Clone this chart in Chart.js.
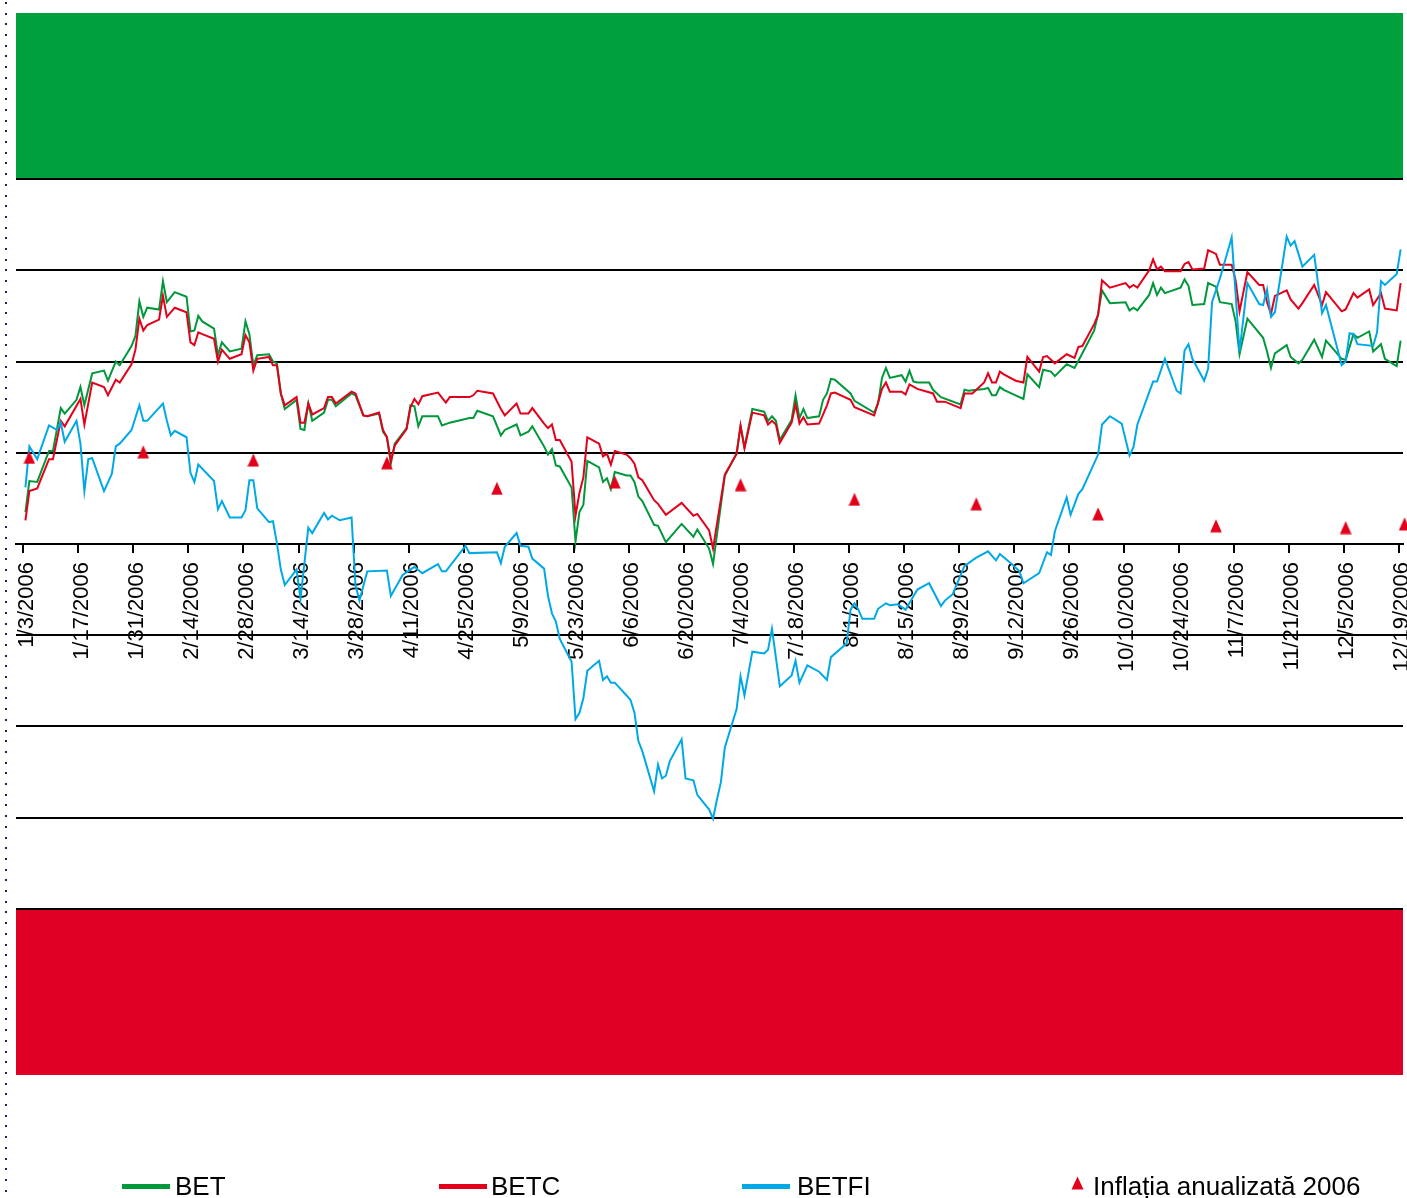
<!DOCTYPE html>
<html>
<head>
<meta charset="utf-8">
<script src="https://cdn.jsdelivr.net/npm/chart.js@4.4.1/dist/chart.umd.min.js"></script>
<style>
html,body{margin:0;padding:0;background:#fff;overflow:hidden;}
#wrap{position:relative;width:1407px;height:1198px;overflow:hidden;background:#fff;}
#c{position:absolute;left:0;top:0;}
#dots{position:absolute;left:5px;top:2px;width:2px;height:1196px;
  background:repeating-linear-gradient(to bottom,#1b2260 0px,#1b2260 2px,transparent 2px,transparent 10.7px);}
.lg{position:absolute;top:1173px;font-family:"Liberation Sans",Arial,sans-serif;font-size:26px;line-height:26px;color:#000;white-space:nowrap;}
.sw{position:absolute;top:1184px;width:48px;height:5px;}
</style>
</head>
<body>
<div id="wrap">
  <canvas id="c" width="1411" height="1198"></canvas>
  <div id="dots"></div>
  <div class="sw" style="left:122px;background:#00983a"></div>
  <div class="lg" style="left:175px">BET</div>
  <div class="sw" style="left:439px;background:#e2001a"></div>
  <div class="lg" style="left:491px">BETC</div>
  <div class="sw" style="left:742px;background:#00a9e6"></div>
  <div class="lg" style="left:797px">BETFI</div>
  <svg style="position:absolute;left:1071px;top:1176px" width="13" height="14"><polygon points="6.5,0.5 12.5,13.5 0.5,13.5" fill="#e2001a"/></svg>
  <div class="lg" style="left:1093px">Inflația anualizată 2006</div>
</div>
<script>
// x = day of year 2006 (1 = Jan 1), y = % change
const tickDates = ['1/3/2006','1/17/2006','1/31/2006','2/14/2006','2/28/2006','3/14/2006','3/28/2006','4/11/2006','4/25/2006','5/9/2006','5/23/2006','6/6/2006','6/20/2006','7/4/2006','7/18/2006','8/1/2006','8/15/2006','8/29/2006','9/12/2006','9/26/2006','10/10/2006','10/24/2006','11/7/2006','11/21/2006','12/5/2006','12/19/2006'];
const tickDays = [3,17,31,45,59,73,87,101,115,129,143,157,171,185,199,213,227,241,255,269,283,297,311,325,339,353];
const gridValues = [-40,-30,-20,-10,0,10,20,30,40];

const betPoints = [[3,3.5],[4,6.9],[6,6.8],[9,10.2],[10,10.2],[12,14.9],[13,14.3],[16,15.8],[17,17.2],[18,15.2],[20,18.7],[23,19.0],[24,17.9],[26,20.0],[27,19.6],[30,21.7],[31,22.8],[32,26.6],[33,24.9],[34,25.9],[37,25.7],[38,28.8],[39,26.5],[41,27.6],[44,27.1],[45,23.3],[46,23.4],[47,25.0],[48,24.4],[51,23.6],[52,20.7],[53,22.1],[55,21.1],[58,21.4],[59,24.4],[60,23.0],[61,19.6],[62,20.7],[65,20.8],[66,20.0],[67,19.8],[68,16.5],[69,14.8],[72,15.8],[73,12.6],[74,12.5],[75,15.4],[76,13.5],[79,14.4],[80,15.8],[81,15.8],[82,15.1],[86,16.5],[87,16.3],[89,14.1],[90,14.0],[93,14.3],[94,12.3],[95,11.7],[96,8.8],[97,11.0],[100,12.7],[101,15.2],[102,15.1],[103,12.9],[104,14.0],[108,14.0],[109,13.0],[111,13.3],[116,13.8],[117,13.8],[118,14.6],[122,14.0],[124,11.9],[125,12.5],[128,13.1],[129,11.9],[131,12.3],[132,12.9],[135,10.7],[136,9.8],[137,10.4],[138,8.6],[139,8.5],[142,6.2],[143,0.3],[144,3.5],[145,4.3],[146,9.1],[149,8.4],[150,6.8],[151,7.2],[152,6.0],[153,7.9],[156,7.5],[157,7.5],[158,6.8],[159,5.2],[160,4.7],[163,2.1],[164,2.0],[166,0.2],[170,2.2],[173,0.8],[174,1.6],[177,-0.5],[178,-2.2],[181,7.5],[184,9.9],[185,12.9],[186,10.6],[188,14.8],[191,14.5],[192,13.5],[193,14.0],[194,13.5],[195,11.4],[198,13.6],[199,16.3],[200,13.8],[201,14.8],[202,13.8],[205,14.0],[206,15.8],[207,16.5],[208,18.1],[209,18.0],[213,16.5],[214,15.7],[219,14.4],[220,15.4],[221,18.2],[222,19.3],[223,18.2],[226,18.5],[227,17.8],[228,19.0],[229,17.8],[230,17.7],[233,17.7],[234,16.9],[236,16.1],[241,15.3],[242,16.9],[243,16.8],[247,17.0],[248,17.1],[249,16.3],[250,16.3],[251,17.2],[252,16.9],[255,16.3],[257,15.9],[258,18.6],[261,17.2],[262,19.1],[264,18.9],[265,18.4],[268,19.7],[270,19.3],[272,20.9],[275,23.4],[276,25.2],[277,27.8],[279,26.4],[283,26.5],[284,25.6],[285,25.9],[286,25.6],[289,27.3],[290,28.6],[291,27.3],[292,28.1],[293,27.5],[297,28.1],[298,29.0],[299,28.3],[300,26.2],[303,26.3],[304,28.6],[306,28.2],[307,26.5],[310,26.3],[311,24.4],[312,20.8],[314,24.7],[318,22.6],[319,21.1],[320,19.3],[321,20.9],[324,21.8],[325,20.5],[327,19.8],[328,20.2],[331,22.4],[333,20.5],[334,22.3],[338,20.3],[339,20.2],[341,23.0],[342,22.6],[345,23.3],[346,21.1],[348,21.9],[349,20.3],[352,19.5],[353,22.3]];

const betcPoints = [[3,2.6],[4,5.8],[6,6.1],[9,9.3],[10,9.3],[12,13.5],[13,12.9],[17,15.9],[18,13.1],[20,17.7],[23,17.2],[24,16.3],[26,18.0],[27,17.7],[30,19.7],[31,21.3],[32,24.7],[33,23.4],[34,24.0],[37,24.6],[38,27.2],[39,24.9],[41,25.9],[44,25.4],[45,22.1],[46,21.8],[47,23.2],[48,23.0],[51,22.5],[52,20.0],[53,21.3],[55,20.3],[58,20.8],[59,22.9],[60,22.1],[61,19.0],[62,20.3],[65,20.5],[66,19.6],[67,19.6],[68,16.5],[69,15.2],[72,16.1],[73,13.3],[74,13.3],[75,15.4],[76,14.2],[79,14.9],[80,16.1],[81,16.1],[82,15.4],[86,16.7],[87,16.5],[89,14.1],[90,14.0],[93,14.4],[94,12.5],[95,11.7],[96,9.1],[97,10.8],[100,12.6],[101,15.0],[102,15.9],[103,15.3],[104,16.2],[108,16.6],[110,15.5],[111,16.1],[116,16.1],[117,16.3],[118,16.8],[122,16.5],[124,14.8],[125,14.1],[128,15.4],[129,14.3],[131,14.3],[132,14.9],[135,13.2],[136,12.7],[137,13.1],[138,11.4],[139,11.4],[142,9.0],[143,3.1],[144,5.6],[145,7.3],[146,11.7],[149,11.0],[150,9.6],[151,9.9],[152,8.7],[153,10.2],[156,9.8],[157,9.4],[158,8.8],[159,7.3],[160,7.0],[163,4.8],[164,4.4],[166,3.2],[170,4.5],[173,3.1],[174,3.3],[177,1.5],[178,-0.5],[181,7.6],[184,9.9],[185,13.0],[186,10.5],[188,14.4],[191,14.1],[192,13.1],[193,13.5],[194,13.1],[195,11.1],[198,13.3],[199,15.3],[200,13.2],[201,13.9],[202,13.1],[205,13.2],[207,15.2],[208,16.5],[209,16.6],[213,15.8],[214,15.0],[219,14.1],[220,15.5],[221,17.0],[222,17.7],[223,16.7],[226,16.7],[227,16.4],[228,17.5],[230,17.0],[234,16.5],[235,15.6],[237,15.6],[241,14.9],[242,16.5],[244,16.5],[247,17.7],[248,18.7],[249,17.7],[250,17.7],[251,18.9],[252,18.6],[255,17.9],[257,17.7],[258,20.5],[261,18.9],[262,20.5],[263,20.6],[265,19.8],[268,20.8],[270,20.4],[271,21.6],[272,21.7],[275,24.1],[276,25.1],[277,28.9],[279,28.1],[283,28.6],[284,28.1],[285,28.4],[286,28.1],[289,30.0],[290,31.2],[291,30.1],[292,30.4],[293,29.9],[297,29.9],[298,30.7],[299,30.9],[300,30.1],[303,30.2],[304,32.2],[306,31.8],[307,30.6],[310,30.6],[311,28.9],[312,25.5],[314,29.8],[317,28.4],[318,28.4],[319,26.5],[320,25.2],[321,27.2],[324,27.8],[325,26.8],[327,25.8],[328,26.4],[331,28.4],[333,26.2],[334,27.6],[338,25.5],[339,25.7],[341,27.5],[342,27.0],[345,27.9],[346,26.2],[348,27.5],[349,25.8],[352,25.6],[353,28.6]];

const betfiPoints = [[3,6.2],[4,10.7],[6,9.3],[9,13.0],[11,12.5],[12,13.3],[13,11.2],[16,13.5],[17,11.0],[18,5.8],[19,9.3],[20,9.4],[23,5.8],[25,7.7],[26,10.7],[27,11.0],[30,12.5],[32,15.2],[33,13.5],[34,13.5],[38,15.4],[39,13.5],[40,11.9],[41,12.4],[44,11.7],[45,7.8],[46,6.8],[47,8.7],[51,6.9],[52,3.8],[53,4.7],[55,2.9],[58,2.9],[59,3.7],[60,7.0],[61,7.0],[62,3.9],[65,2.4],[66,2.5],[67,0.1],[68,-2.8],[69,-4.5],[72,-2.8],[73,-6.0],[75,1.8],[76,1.2],[79,3.4],[80,2.7],[81,3.1],[83,2.6],[86,2.9],[87,-4.5],[88,-6.2],[90,-3.0],[95,-2.9],[96,-5.7],[99,-3.4],[102,-2.5],[104,-3.2],[108,-2.2],[109,-3.0],[110,-3.0],[115,-0.2],[116,-1.0],[123,-0.9],[124,-2.1],[125,-0.3],[128,1.2],[129,-0.2],[131,-0.3],[132,-1.6],[135,-2.7],[136,-5.7],[137,-7.6],[138,-8.5],[139,-10.4],[142,-12.9],[143,-19.2],[144,-18.5],[145,-16.9],[146,-13.9],[149,-12.8],[150,-14.9],[151,-14.5],[152,-15.2],[153,-15.2],[156,-16.6],[157,-17.1],[158,-18.5],[159,-21.6],[160,-22.7],[163,-27.1],[164,-24.2],[165,-25.7],[166,-25.4],[167,-23.8],[170,-21.4],[171,-25.7],[173,-25.9],[174,-27.5],[177,-29.1],[178,-30.1],[179,-28.0],[180,-26.1],[181,-22.3],[184,-18.1],[185,-14.5],[186,-16.6],[188,-11.8],[191,-12.0],[192,-11.6],[193,-9.3],[195,-15.6],[198,-14.4],[199,-12.8],[200,-15.2],[202,-13.3],[205,-14.0],[207,-14.9],[208,-12.4],[212,-10.9],[213,-7.2],[214,-6.5],[215,-7.2],[216,-8.2],[219,-8.2],[220,-7.1],[222,-6.5],[223,-6.7],[225,-6.6],[227,-7.2],[230,-5.0],[233,-4.3],[236,-6.8],[237,-6.2],[239,-5.5],[242,-2.4],[245,-1.5],[248,-0.8],[250,-1.8],[251,-1.1],[254,-2.2],[256,-3.0],[257,-4.3],[261,-3.2],[263,-0.9],[264,-1.2],[265,1.4],[268,5.1],[269,3.2],[271,5.5],[272,6.0],[276,9.8],[277,13.1],[279,14.0],[282,13.2],[284,9.7],[285,10.6],[286,13.1],[290,17.8],[291,17.8],[293,20.3],[296,16.8],[297,16.5],[298,21.2],[299,21.9],[300,20.3],[303,17.9],[304,19.2],[305,26.5],[307,29.1],[310,33.6],[311,27.4],[312,21.1],[314,28.6],[317,26.3],[318,26.2],[319,27.9],[320,24.9],[321,25.4],[324,33.7],[325,32.7],[326,33.2],[328,30.4],[331,31.7],[333,25.3],[334,26.2],[338,19.6],[339,20.0],[340,23.1],[341,23.0],[342,21.9],[346,21.7],[347,23.2],[348,28.8],[349,28.4],[352,29.6],[353,32.3]];

const inflationPoints = [[4,9.5],[33,10.1],[61,9.2],[95,8.9],[123,6.1],[153,6.8],[185,6.5],[214,4.9],[245,4.4],[276,3.3],[306,2.0],[339,1.8],[354,2.2]];

const toXY = arr => arr.map(p => ({x: p[0], y: p[1]}));

// triangle marker
const tri = document.createElement('canvas');
tri.width = 12; tri.height = 14;
(function(){const g = tri.getContext('2d'); g.fillStyle = '#e2001a'; g.beginPath(); g.moveTo(6,0.5); g.lineTo(11.8,13.5); g.lineTo(0.2,13.5); g.closePath(); g.fill();})();

const bands = {
  id: 'bands',
  beforeDraw(chart) {
    const {ctx, chartArea: a, scales: {y}} = chart;
    ctx.save();
    ctx.fillStyle = '#00a03c';
    const gTop = y.getPixelForValue(y.max), g40 = y.getPixelForValue(40);
    ctx.fillRect(a.left, gTop, a.right - a.left, g40 - gTop);
    ctx.fillStyle = '#e00025';
    const rTop = y.getPixelForValue(-40), rBot = y.getPixelForValue(y.min);
    ctx.fillRect(a.left, rTop, a.right - a.left, rBot - rTop);
    ctx.restore();
  }
};

new Chart(document.getElementById('c'), {
  type: 'line',
  data: {
    datasets: [
      {label: 'Inflația anualizată 2006', data: toXY(inflationPoints), showLine: false, pointStyle: tri, pointRadius: 7, pointHoverRadius: 7, order: 0, clip: false},
      {label: 'BETFI', data: toXY(betfiPoints), borderColor: '#00a9e6', borderWidth: 2, pointRadius: 0, tension: 0, order: 1},
      {label: 'BETC', data: toXY(betcPoints), borderColor: '#e2001a', borderWidth: 2, pointRadius: 0, tension: 0, order: 2},
      {label: 'BET', data: toXY(betPoints), borderColor: '#00983a', borderWidth: 2, pointRadius: 0, tension: 0, order: 3}
    ]
  },
  options: {
    responsive: false,
    animation: false,
    devicePixelRatio: 1,
    layout: {padding: {left: 16, top: 13, right: 0, bottom: 123}},
    plugins: {legend: {display: false}, tooltip: {enabled: false}},
    scales: {
      x: {
        type: 'linear', min: 0.6, max: 353.6, position: {y: 0},
        afterBuildTicks: s => { s.ticks = tickDays.map(d => ({value: d - 0.5})); },
        afterFit: s => { s.paddingLeft = 0; s.paddingRight = 0; },
        ticks: {autoSkip: false, maxRotation: 90, minRotation: 90, padding: 10, labelOffset: 3, color: '#000',
          font: {family: '"Liberation Sans", Arial, sans-serif', size: 22},
          callback: (v, i) => tickDates[i]},
        grid: {drawOnChartArea: false, drawTicks: true, tickLength: 8, color: '#000', lineWidth: 2},
        border: {display: true, color: '#000', width: 2}
      },
      y: {
        min: -58.2, max: 58.2,
        afterBuildTicks: s => { s.ticks = gridValues.map(v => ({value: v})); },
        ticks: {display: false},
        grid: {color: '#000', lineWidth: 2, drawTicks: false},
        border: {display: false}
      }
    }
  },
  plugins: [bands]
});
</script>
</body>
</html>
